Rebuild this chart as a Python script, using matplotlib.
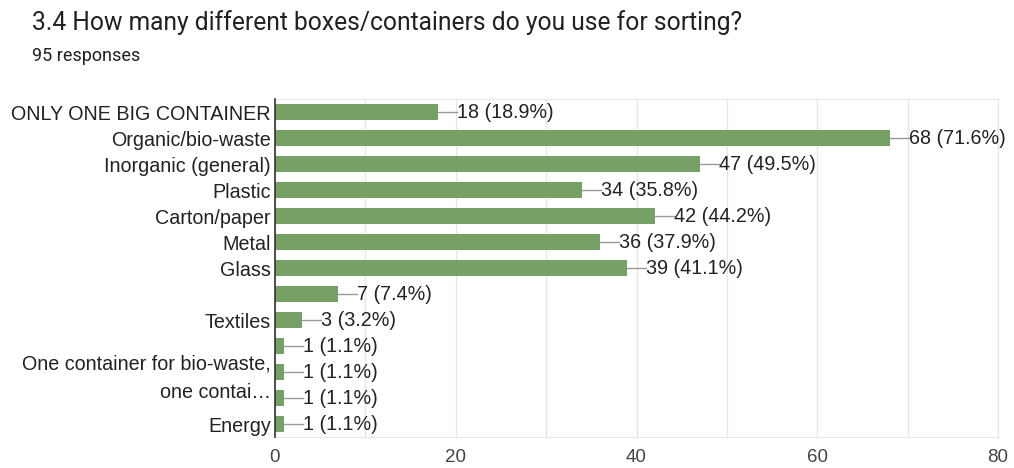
import matplotlib
matplotlib.use("Agg")
import matplotlib.pyplot as plt
import numpy as np

categories = ["ONLY ONE BIG CONTAINER", "Organic/bio-waste", "Inorganic (general)",
              "Plastic", "Carton/paper", "Metal", "Glass", "", "Textiles", "",
              "One container for bio-waste,\none contai…", "", "Energy"]
counts = [18, 68, 47, 34, 42, 36, 39, 7, 3, 1, 1, 1, 1]
percents = [18.9, 71.6, 49.5, 35.8, 44.2, 37.9, 41.1, 7.4, 3.2, 1.1, 1.1, 1.1, 1.1]
xticks = [0, 20, 40, 60, 80]

W, H = 1014, 468
fig = plt.figure(figsize=(W/100, H/100), dpi=100)
fig.patch.set_facecolor("white")
ax = fig.add_axes([275/W, 1-437/H, (998-275)/W, (437-99)/H])

y = np.arange(len(categories))
ax.barh(y, counts, height=0.62, color="#77a066", zorder=3)
ax.set_ylim(len(categories)-0.5, -0.5)
ax.set_xlim(0, 80)
ax.set_xticks(xticks)
ax.set_xticks(np.arange(0, 81, 10), minor=True)
ax.grid(True, axis="x", which="both", color="#e6e6e6", lw=1, zorder=0)
ax.tick_params(axis="x", which="both", length=0, pad=9, labelsize=13.5, labelcolor="#444444")
ax.tick_params(axis="y", length=0, pad=3, labelsize=14.2, labelcolor="#222222")
ax.set_yticks(y)
ax.set_yticklabels(categories, fontfamily="Liberation Sans", linespacing=1.6)
for lab in ax.get_xticklabels():
    lab.set_fontfamily("Liberation Sans")
for s in ["top", "right", "bottom"]:
    ax.spines[s].set_color("#e6e6e6")
ax.spines["left"].set_color("#333333")
ax.spines["left"].set_linewidth(1.2)
ax.spines["left"].set_zorder(4)

lead = 19 * 80 / 723
for yi, c, p in zip(y, counts, percents):
    ax.plot([c, c + lead], [yi, yi], color="#999999", lw=1, zorder=3, clip_on=False)
    ax.text(c + lead, yi + 0.03, f"{c} ({p}%)", va="center", ha="left",
            fontsize=14.2, color="#222222", fontfamily="Liberation Sans")

fig.text(32/W, 1-23/H, "3.4 How many different boxes/containers do you use for sorting?",
         fontsize=17.7, color="#202124", fontfamily="Roboto", va="center")
fig.text(32/W, 1-56/H, "95 responses", fontsize=13, color="#202124",
         fontfamily="Roboto", va="center")

fig.savefig("out.png", dpi=100, facecolor="white")
